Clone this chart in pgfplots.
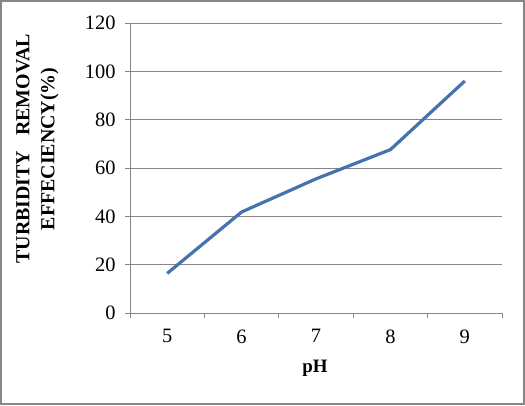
\documentclass[border=0pt]{standalone}
\usepackage{pgfplots}
\pgfplotsset{compat=1.18}
\usepackage{fontspec}
\setmainfont{Liberation Serif}
\definecolor{linecol}{HTML}{4672AD}
\definecolor{gridcol}{HTML}{868686}
\begin{document}
\begin{tikzpicture}[x=1bp,y=1bp]
\draw[gridcol, line width=2bp] (1,1) rectangle (524,404);
\path (0,0) rectangle (525,405);
\begin{axis}[
  at={(130bp,92bp)}, anchor=south west,
  scale only axis, width=372bp, height=290bp,
  xmin=-0.5, xmax=4.5, ymin=0, ymax=120,
  axis x line*=bottom, axis y line*=left,
  axis line style={gridcol, line width=0.8bp, -},
  xtick={0,1,2,3,4}, xticklabels={5,6,7,8,9},
  major x tick style={draw=none},
  minor xtick={-0.5,0.5,1.5,2.5,3.5,4.5},
  minor x tick style={gridcol, line width=0.8bp},
  minor tick length=5bp,
  ytick={0,20,...,120},
  ymajorgrids, grid style={gridcol, line width=0.8bp},
  y tick style={gridcol, line width=0.8bp},
  major tick length=5bp,
  tick align=outside,
  ticklabel style={font=\fontsize{20.5}{23}\selectfont},
  /pgf/number format/assume math mode=true,
  xticklabel style={yshift=-8bp},
  yticklabel style={xshift=-6bp},
  xlabel={\textbf{pH}},
  xlabel style={font=\fontsize{19}{22}\selectfont, at={(axis description cs:0.497,-0.19)}, anchor=center},
  ylabel={\textbf{TURBIDITY\ \ \ REMOVAL}\\\textbf{EFFECIENCY(\%)}},
  ylabel style={font=\fontsize{20}{25}\selectfont, align=center, at={(axis description cs:-0.249,0.566)}, anchor=center, rotate=0},
  clip=false,
]
\addplot[linecol, line width=3.2bp, line join=round] coordinates {
  (0,16.4) (1,41.8) (2,55.5) (3,67.6) (4,96)
};
\end{axis}
\end{tikzpicture}
\end{document}
